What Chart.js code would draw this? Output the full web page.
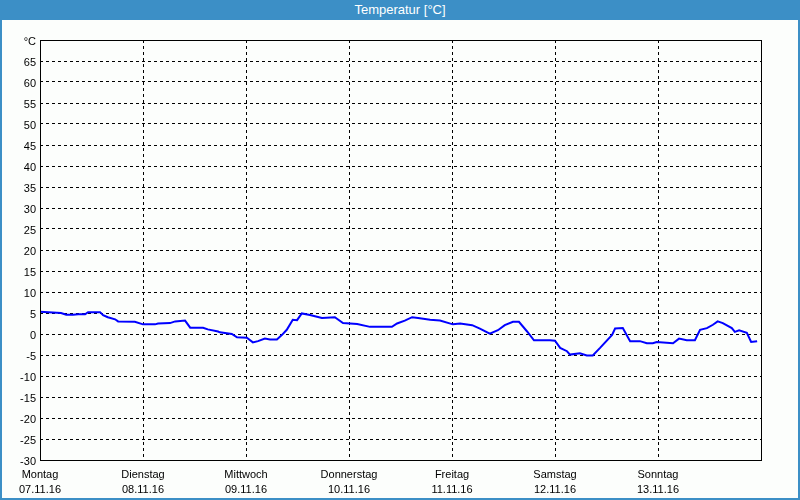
<!DOCTYPE html>
<html>
<head>
<meta charset="utf-8">
<script src="https://cdn.jsdelivr.net/npm/chart.js@4/dist/chart.umd.min.js"></script>
<style>
  html, body { margin: 0; padding: 0; background: #fcfefc; }
  #win { position: relative; width: 796px; height: 498px; border: 2px solid #3c8fc6; border-top: 0; background: #fcfefc; }
  #bar { height: 20px; background: #3c8fc6; color: #fff; font: 13px "Liberation Sans", Arial, sans-serif; text-align: center; line-height: 20px; margin: 0 -2px; }
  #wrap { width: 796px; height: 478px; }
</style>
</head>
<body>
<div id="win">
  <div id="bar">Temperatur [°C]</div>
  <div id="wrap"><canvas id="c" width="796" height="478"></canvas></div>
</div>
<script>
  // hours since Montag 00:00
  var hours = [0, 4.9, 6.1, 7.7, 8.9, 10.5, 11.2, 14.0, 14.7, 15.8, 17.5, 18.2, 22.1, 24.0, 26.8, 27.5,
    30.3, 31.5, 33.8, 35.0, 38.0, 39.1, 41.5, 41.9, 44.7, 45.9, 48.2, 49.6, 50.8, 52.4, 53.6, 55.2,
    56.4, 57.5, 58.9, 59.9, 61.0, 62.9, 65.7, 68.7, 70.6, 73.9, 76.9, 82.0, 83.2, 85.0, 86.7, 88.1,
    90.9, 93.2, 96.2, 97.9, 100.7, 102.5, 104.8, 106.7, 108.3, 110.2, 111.6, 113.5, 115.1, 118.8,
    120.0, 121.2, 122.8, 123.5, 125.8, 127.4, 128.8, 130.5, 133.3, 134.0, 135.8, 137.5, 139.8, 141.4,
    142.8, 143.7, 147.5, 148.9, 150.7, 152.6, 153.8, 155.4, 156.8, 157.9, 159.1, 161.2, 161.9, 162.9,
    164.7, 165.7, 167.1];
  var temps = [5.3, 5.0, 4.6, 4.6, 4.7, 4.7, 5.2, 5.2, 4.5, 4.0, 3.5, 3.0, 2.9, 2.3, 2.3, 2.5,
    2.6, 3.0, 3.2, 1.5, 1.5, 1.1, 0.6, 0.4, 0.0, -0.8, -0.9, -2.0, -1.7, -1.1, -1.3, -1.3,
    -0.2, 1.0, 3.4, 3.3, 4.9, 4.5, 3.8, 4.0, 2.6, 2.4, 1.7, 1.7, 2.5, 3.2, 4.0, 3.8,
    3.4, 3.2, 2.3, 2.5, 2.1, 1.3, 0.1, 0.9, 2.1, 2.9, 2.9, 0.6, -1.5, -1.5,
    -1.6, -3.3, -4.1, -4.9, -4.6, -5.1, -5.1, -3.3, -0.2, 1.3, 1.4, -1.7, -1.7, -2.2,
    -2.2, -1.9, -2.2, -1.1, -1.5, -1.5, 1.0, 1.4, 2.2, 3.0, 2.6, 1.4, 0.5, 0.9,
    0.3, -1.9, -1.7];
  var dayNames = ["Montag", "Dienstag", "Mittwoch", "Donnerstag", "Freitag", "Samstag", "Sonntag"];
  var dayDates = ["07.11.16", "08.11.16", "09.11.16", "10.11.16", "11.11.16", "12.11.16", "13.11.16"];
  var yMin = -30, yMax = 70, yStep = 5;

  var points = hours.map(function (h, i) { return { x: h, y: temps[i] }; });

  // solid frame round the plot area
  var frame = {
    id: "frame",
    afterDraw: function (chart) {
      var a = chart.chartArea, ctx = chart.ctx;
      ctx.save();
      ctx.strokeStyle = "#000";
      ctx.lineWidth = 1;
      ctx.strokeRect(Math.round(a.left) + 0.5, Math.round(a.top) + 0.5,
        Math.round(a.right - a.left), Math.round(a.bottom - a.top));
      ctx.restore();
    }
  };

  var font = { family: "'Liberation Sans', Arial, sans-serif", size: 11, lineHeight: 1.4 };
  var grid = { color: "#000", lineWidth: 1, drawTicks: false };

  new Chart(document.getElementById("c"), {
    type: "line",
    data: { datasets: [{ data: points, borderColor: "#0000ff", borderWidth: 2, pointRadius: 0, tension: 0, fill: false }] },
    options: {
      responsive: false, animation: false,
      layout: { padding: { left: 0, top: 20, right: 37, bottom: 0 } },
      plugins: { legend: { display: false }, tooltip: { enabled: false } },
      scales: {
        x: {
          type: "linear", min: 0, max: 168,
          afterFit: function (s) { s.height = 38; },
          grid: grid,
          border: { display: false, dash: [3, 3] },
          ticks: {
            stepSize: 24, autoSkip: false, maxRotation: 0, padding: 7, color: "#000", font: font,
            callback: function (v) { var i = v / 24; return i < dayNames.length ? [dayNames[i], dayDates[i]] : ""; }
          }
        },
        y: {
          min: yMin, max: yMax,
          afterFit: function (s) { s.width = 38; },
          grid: grid,
          border: { display: false, dash: [3, 3] },
          ticks: {
            stepSize: yStep, padding: 4, labelOffset: 2, color: "#000", font: { family: font.family, size: 11 },
            callback: function (v) { return v === yMax ? "°C" : v; }
          }
        }
      }
    },
    plugins: [frame]
  });
</script>
</body>
</html>
